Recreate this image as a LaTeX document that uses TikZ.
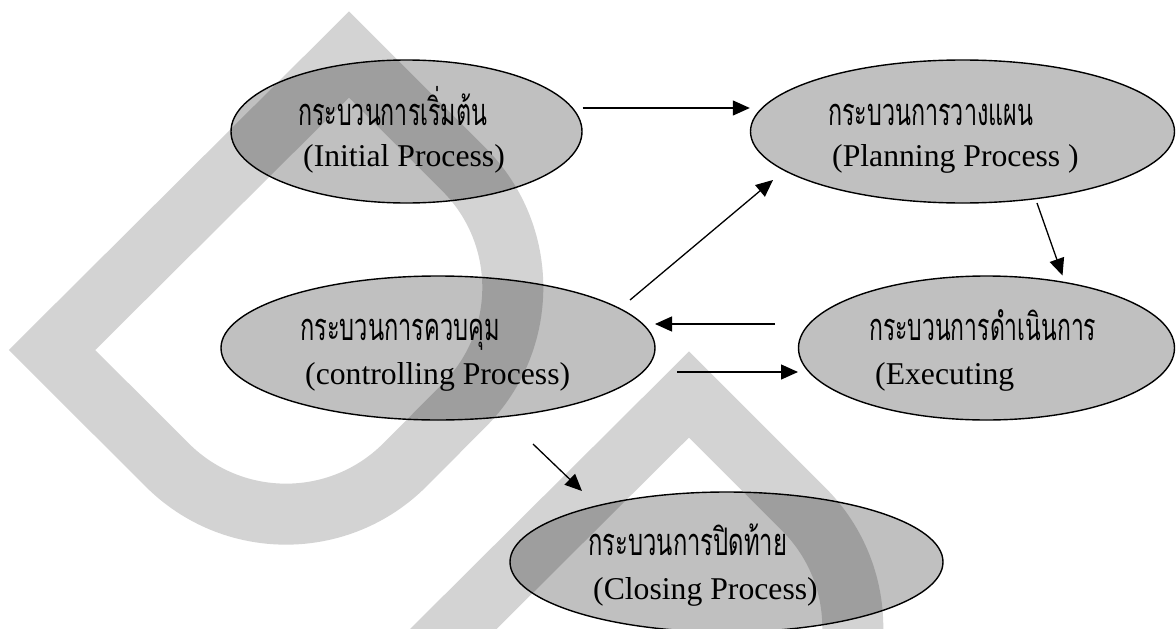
\documentclass[tikz,border=0pt]{standalone}
\usepackage{fontspec}
\setmainfont{Liberation Serif}
\newfontfamily\thaifont[Script=Thai]{Loma}
\usetikzlibrary{shapes.geometric,arrows.meta,calc}

% Thai line squeezed to a given width (in px = pt here)
\newcommand\thaiword[2]{\resizebox{#1pt}{\height}{\thaifont\fontsize{38pt}{46pt}\selectfont #2}}

\definecolor{procgray}{HTML}{C0C0C0}

\tikzset{
  proc/.style={ellipse, draw=black, line width=1.4pt, fill=procgray, inner sep=0pt},
  eng/.style={anchor=base west, inner sep=0pt, font=\fontsize{31.7pt}{38pt}\selectfont},
  thai/.style={anchor=base west, inner sep=0pt},
  arr/.style={line width=1.3pt, -{Triangle[length=17pt,width=15pt]}},
  band/.style={draw=black, draw opacity=0.173, line width=61pt, line join=miter}
}

\begin{document}
\begin{tikzpicture}[x=1pt,y=-1pt]
\useasboundingbox (0,0) rectangle (1176,629);
\clip (0,0) rectangle (1176,629);

% process ellipses
\node[proc, minimum width=351pt, minimum height=143pt] (init)  at (406.5,131.5) {};
\node[proc, minimum width=424pt, minimum height=143pt] (plan)  at (962.5,131.5) {};
\node[proc, minimum width=434pt, minimum height=144pt] (ctrl)  at (438,348) {};
\node[proc, minimum width=376pt, minimum height=144pt] (exec)  at (986.5,348) {};
\node[proc, minimum width=433pt, minimum height=140pt] (close) at (726.5,562) {};

% labels
\node[thai] (initTh)  at (298,125) {\thaiword{189}{กระบวนการเริ่มต้น}};
\node[eng]  (initEn)  at (303,166) {(Initial Process)};
\node[thai] (planTh)  at (828,125) {\thaiword{205}{กระบวนการวางแผน}};
\node[eng]  (planEn)  at (832,166) {(Planning Process )};
\node[thai] (ctrlTh)  at (300,340) {\thaiword{200}{กระบวนการควบคุม}};
\node[eng]  (ctrlEn)  at (305,384) {(controlling Process)};
\node[thai] (execTh)  at (869,340) {\thaiword{227}{กระบวนการดำเนินการ}};
\node[eng]  (execEn)  at (875,384) {(Executing};
\node[thai] (closeTh) at (588,555) {\thaiword{199}{กระบวนการปิดท้าย}};
\node[eng]  (closeEn) at (593,599) {(Closing Process)};

% connectors
\draw[arr] ([yshift=23.5pt]init.east) -- ([yshift=23.5pt]plan.west);
\draw[arr] ($(ctrl)+(192,-48)$) -- ($(plan)+(-189.5,48.5)$);
\draw[arr] ($(plan)+(74.5,71.5)$) -- ($(exec)+(76,-72.5)$);
\draw[arr] ($(exec)+(-211.5,-24)$) -- ($(ctrl)+(217,-24)$);
\draw[arr] ($(ctrl)+(239,24)$) -- ($(exec)+(-188.5,24)$);
\draw[arr] ($(ctrl)+(95,96)$) -- ($(close)+(-144.5,-71)$);

% translucent grey bands laid over everything
\foreach \dx/\dy in {0/0,340/340}{
  \draw[band, shift={(\dx,\dy)}]
    (349,54.5) -- (463.9,169.4)
    .. controls (529.1,234.6) and (529.1,340.4) .. (463.9,405.6)
    -- (404.8,464.95)
    .. controls (339.2,530.55) and (232.8,530.55) .. (167.2,464.95)
    -- (52,350) -- cycle;
}
\end{tikzpicture}
\end{document}
